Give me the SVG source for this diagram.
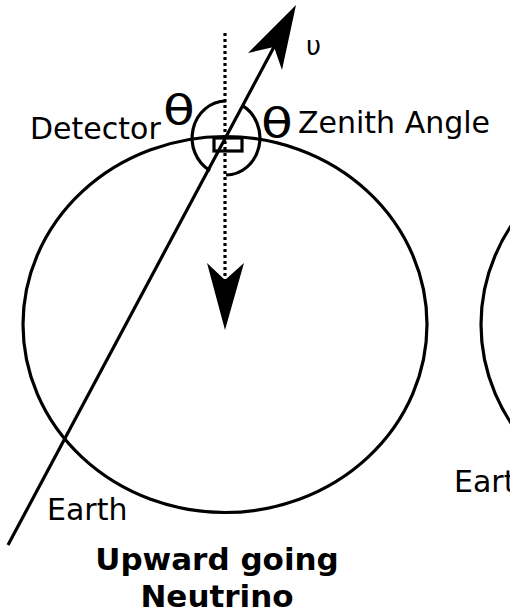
<svg xmlns="http://www.w3.org/2000/svg" width="510" height="615" viewBox="0 0 510 615">
<style>
.ln{fill:none;stroke:#000;stroke-width:3.2}
.t{font-family:"DejaVu Sans",sans-serif;fill:#000}
.ah{fill:#000;stroke:none}
</style>
<rect width="510" height="615" fill="#fff"/>
<g id="earth-main">
<ellipse class="ln" cx="225" cy="324.5" rx="202" ry="188"/>
<text class="t" x="47" y="520" font-size="30">Earth</text>
</g>
<g id="earth-right">
<ellipse class="ln" cx="683" cy="324.5" rx="202" ry="188"/>
<text class="t" x="454" y="492" font-size="30">Earth</text>
</g>
<g id="detector">
<rect class="ln" x="214" y="138" width="28" height="13"/>
<text class="t" x="30" y="139" font-size="30">Detector</text>
</g>
<g id="zenith-angle">
<path class="ln" d="M226 101 A34 37 0 0 0 210 170.6"/>
<path class="ln" d="M242 105.4 A34 37 0 0 1 226 175"/>
<text class="t" font-size="40" transform="translate(163,124) scale(1.3,1)">θ</text>
<text class="t" font-size="40" transform="translate(261,137) scale(1.3,1)">θ</text>
<text class="t" x="298" y="133" font-size="30">Zenith Angle</text>
</g>
<g id="connectors">
<line class="ln" x1="225" y1="33" x2="225" y2="280" stroke-dasharray="3 3"/>
<polygon class="ah" points="225,330 207,263 225,280 244,263"/>
<line class="ln" x1="8" y1="545" x2="275" y2="45"/>
<polygon class="ah" points="296,5 282,70 274,47 248,53"/>
</g>
<g id="neutrino-label">
<text class="t" x="306" y="55" font-size="26">υ</text>
</g>
<g id="caption">
<text class="t" x="217" y="570" font-size="31" font-weight="bold" text-anchor="middle">Upward going</text>
<text class="t" x="217" y="607" font-size="31" font-weight="bold" text-anchor="middle">Neutrino</text>
</g>
</svg>
